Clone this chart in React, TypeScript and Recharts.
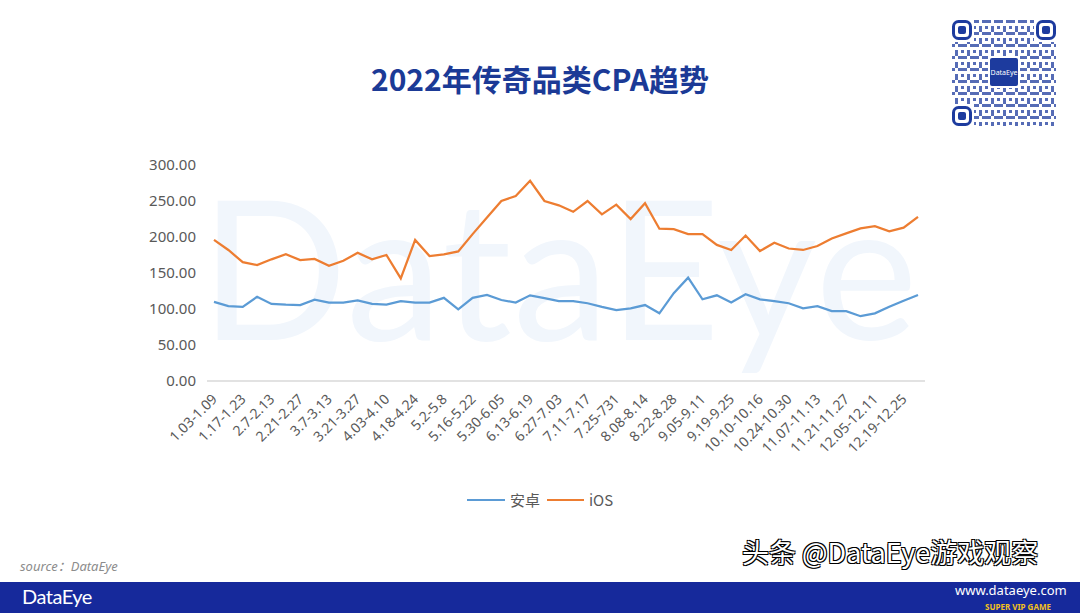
import React from "react";
import { Line, LineChart, XAxis, YAxis } from "recharts";

const weeks = [
  "1.03-1.09", "1.10-1.16", "1.17-1.23", "1.24-2.06", "2.7-2.13",
  "2.14-2.20", "2.21-2.27", "2.28-3.06", "3.7-3.13", "3.14-3.20",
  "3.21-3.27", "3.28-4.02", "4.03-4.10", "4.11-4.17", "4.18-4.24",
  "4.25-5.1", "5.2-5.8", "5.9-5.15", "5.16-5.22", "5.23-5.29",
  "5.30-6.05", "6.06-6.12", "6.13-6.19", "6.20-6.26", "6.27-7.03",
  "7.04-7.10", "7.11-7.17", "7.18-7.24", "7.25-731", "8.01-8.07",
  "8.08-8.14", "8.15-8.21", "8.22-8.28", "8.29-9.04", "9.05-9.11",
  "9.12-9.18", "9.19-9.25", "9.26-10.09", "10.10-10.16", "10.17-10.23",
  "10.24-10.30", "10.31-11.06", "11.07-11.13", "11.14-11.20", "11.21-11.27",
  "11.28-12.04", "12.05-12.11", "12.12-12.18", "12.19-12.25", "12.26-12.31",
];

const android = [
  110, 104, 103, 117, 107, 106, 105.5, 113, 109, 109,
  112, 107, 106, 111, 109, 109, 115.5, 99.5, 115.5, 119.5,
  112.5, 109, 119, 115, 111, 111, 108, 103, 98.5, 101,
  105.5, 94, 122, 143.5, 113.5, 119, 109, 120.5, 113.5, 111,
  108, 101, 104, 97, 97, 90, 94, 103, 111.5, 119.5,
];

const ios = [
  196, 182, 165, 161, 169, 176, 168, 169.5, 160, 167,
  178, 169, 175, 142.5, 196, 173.5, 176, 180, 204, 227,
  250, 257, 278, 250, 244, 235, 250, 231.5, 245, 225,
  247, 211.5, 211, 204, 204, 189, 182, 202, 180.5, 192,
  184, 182, 187.5, 198, 205, 212, 215, 208, 213, 228,
];

const yTicks = [0, 50, 100, 150, 200, 250, 300];

const data = weeks.map((week, i) => ({ week, android: android[i], ios: ios[i] }));

const FONT = '"Noto Sans", "Open Sans", "Noto Sans CJK SC", sans-serif';
const CJK = '"Noto Sans CJK SC", "Noto Sans", sans-serif';

const XTick = ({ x, y, payload }: any) => (
  <text
    x={x + 4}
    y={y + 11}
    transform={`rotate(-45, ${x + 4}, ${y + 11})`}
    textAnchor="end"
    fontSize={14}
    fill="#595959"
    fontFamily={FONT}
  >
    {payload.value}
  </text>
);

const LegendBox = () => (
  <div
    style={{
      position: "absolute",
      left: 0,
      top: 489,
      width: 1080,
      display: "flex",
      justifyContent: "center",
      alignItems: "center",
      fontFamily: CJK,
      fontSize: 15,
      color: "#595959",
    }}
  >
    <span style={{ display: "inline-block", width: 38, height: 2, background: "#5b9bd5", marginRight: 5 }} />
    <span style={{ marginRight: 7 }}>安卓</span>
    <span style={{ display: "inline-block", width: 37, height: 2, background: "#ed7d31", marginRight: 5 }} />
    <span>iOS</span>
  </div>
);

const QrCode = () => (
  <svg width={104} height={106} style={{ position: "absolute", left: 952, top: 20 }}>
    <defs>
      <pattern id="qrp" width="12" height="12" patternUnits="userSpaceOnUse">
        <rect x="0" y="0" width="3" height="3" fill="#1d3b9e" />
        <rect x="6" y="0" width="6" height="3" fill="#1d3b9e" />
        <rect x="3" y="6" width="3" height="6" fill="#1d3b9e" />
        <rect x="9" y="6" width="3" height="3" fill="#1d3b9e" />
      </pattern>
    </defs>
    <rect x="0" y="0" width="104" height="106" fill="#fff" />
    <rect x="0" y="0" width="104" height="106" fill="url(#qrp)" opacity={0.75} />
    {[
      [0, 0],
      [84, 0],
      [0, 86],
    ].map(([fx, fy], i) => (
      <g key={i}>
        <rect x={fx - 2} y={fy - 2} width={24} height={24} fill="#fff" />
        <rect x={fx + 1.5} y={fy + 1.5} width={17} height={17} rx={5} fill="none" stroke="#1d3b9e" strokeWidth={3} />
        <rect x={fx + 6} y={fy + 6} width={8} height={8} rx={2} fill="#1d3b9e" />
      </g>
    ))}
    <rect x={36} y={36} width={32} height={32} fill="#fff" />
    <rect x={38} y={38} width={28} height={28} rx={2} fill="#1d3b9e" />
    <text x={52} y={55} textAnchor="middle" fontSize={7} fill="#fff" fontFamily={FONT}>
      DataEye
    </text>
  </svg>
);

export default function App() {
  return (
    <div style={{ position: "absolute", left: 0, top: 0, width: 1080, height: 613, background: "#fff", overflow: "hidden", fontFamily: FONT }}>
      {/* faint brand watermark behind the plot */}
      <div
        style={{
          position: "absolute",
          left: 200,
          top: 168,
          fontSize: 194,
          fontFamily: '"Lato", "Noto Sans", sans-serif',
          color: "#f1f6fc",
          letterSpacing: 1,
          lineHeight: 1,
          whiteSpace: "nowrap",
        }}
      >
        DataEye
      </div>
      <div
        style={{
          position: "absolute",
          left: 0,
          width: 1080,
          top: 57,
          textAlign: "center",
          fontFamily: CJK,
          fontWeight: 700,
          fontSize: 30,
          color: "#1b3a96",
          lineHeight: "42px",
        }}
      >
        2022年传奇品类CPA趋势
      </div>
      <QrCode />
      <div style={{ position: "absolute", left: 0, top: 0 }}>
        <LineChart width={1080} height={613} data={data} margin={{ top: 165, right: 155, left: 0, bottom: 0 }}>
          <XAxis
            dataKey="week"
            interval={1}
            height={232}
            tick={<XTick />}
            tickLine={false}
            axisLine={{ stroke: "#d9d9d9", strokeWidth: 1.5 }}
            padding={{ left: 7, right: 7 }}
          />
          <YAxis
            width={207}
            domain={[0, 300]}
            ticks={yTicks}
            tickFormatter={(v: number) => v.toFixed(2)}
            axisLine={false}
            tickLine={false}
            tickSize={0}
            tickMargin={11}
            tick={{ fontSize: 15, fill: "#595959", fontFamily: FONT }}
          />
          <Line type="linear" dataKey="android" name="安卓" stroke="#5b9bd5" strokeWidth={2.25} dot={false} isAnimationActive={false} />
          <Line type="linear" dataKey="ios" name="iOS" stroke="#ed7d31" strokeWidth={2.25} dot={false} isAnimationActive={false} />
        </LineChart>
      </div>
      <LegendBox />
      <div style={{ position: "absolute", left: 20, top: 556, fontSize: 13, fontStyle: "italic", color: "#8c8c8c", fontFamily: FONT }}>
        source：DataEye
      </div>
      <div style={{ position: "absolute", left: 0, top: 582, width: 1080, height: 31, background: "#16299b" }} />
      <div style={{ position: "absolute", left: 22, top: 584, fontSize: 20, color: "#fff", fontFamily: '"Lato", "Noto Sans", sans-serif', letterSpacing: -0.5 }}>
        DataEye
      </div>
      <div
        style={{
          position: "absolute",
          left: 742,
          top: 532,
          fontSize: 27,
          color: "#fff",
          fontFamily: CJK,
          textShadow: "1px 1px 0 #000, -1px -1px 0 #000, 1px -1px 0 #000, -1px 1px 0 #000",
          whiteSpace: "nowrap",
        }}
      >
        头条 @DataEye游戏观察
      </div>
      <div style={{ position: "absolute", left: 955, top: 582, fontSize: 13, lineHeight: "17px", color: "#fff", fontFamily: FONT }}>www.dataeye.com</div>
      <div style={{ position: "absolute", left: 985, top: 602, fontSize: 8, lineHeight: "10px", color: "#f4c21b", fontWeight: 700, fontFamily: FONT }}>SUPER VIP GAME</div>
    </div>
  );
}
